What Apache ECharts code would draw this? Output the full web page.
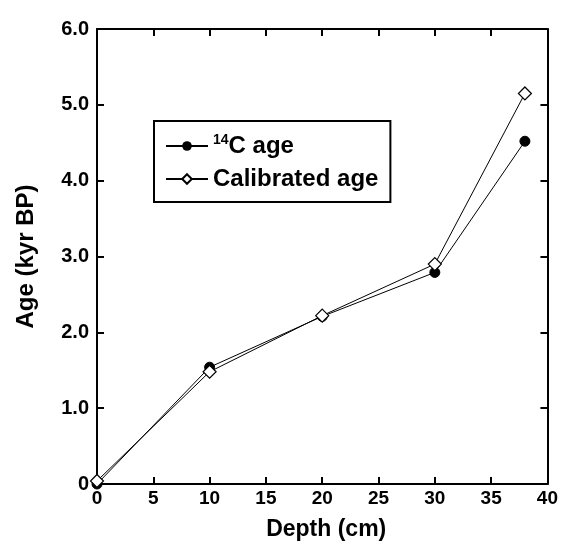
<!DOCTYPE html>
<html><head><meta charset="utf-8">
<script src="https://cdn.jsdelivr.net/npm/echarts@6/dist/echarts.min.js"></script>
<style>html,body{margin:0;padding:0;background:#fff}#c{width:561px;height:550px}</style>
</head><body><div id="c"></div>
<script>
const depth = [0, 10, 20, 30, 38];
const c14Age = [0.0, 1.54, 2.21, 2.79, 4.52];
const calAge = [0.04, 1.48, 2.22, 2.90, 5.15];
const seriesNames = ['14C age', 'Calibrated age'];
const xTicks = [0, 5, 10, 15, 20, 25, 30, 35, 40];
const yTicks = [0, 1, 2, 3, 4, 5, 6];

const FONT = '"Liberation Sans", Arial, sans-serif';
const chart = echarts.init(document.getElementById('c'));
const axisLine = {show: true, onZero: false, lineStyle: {color: '#000', width: 2}};
const tick = {show: true, inside: true, length: 7, lineStyle: {color: '#000', width: 2}};
const xBase = {type: 'value', min: xTicks[0], max: xTicks[xTicks.length-1], interval: 5, splitLine: {show: false}, axisLine, axisTick: tick};
const yBase = {type: 'value', min: yTicks[0], max: yTicks[yTicks.length-1], interval: 1, splitLine: {show: false}, axisLine, axisTick: tick};
chart.setOption({
  animation: false,
  grid: {left: 97, right: 12, top: 29, bottom: 66},
  xAxis: [
    Object.assign({}, xBase, {position: 'bottom', name: 'Depth (cm)', nameLocation: 'middle', nameGap: 34,
      nameTextStyle: {fontFamily: FONT, fontWeight: 'bold', fontSize: 23, color: '#000', padding: [0, 0, 0, 8]},
      axisLabel: {fontFamily: FONT, fontWeight: 'bold', fontSize: 19, color: '#000', margin: 5}}),
    Object.assign({}, xBase, {position: 'top', axisLabel: {show: false}})
  ],
  yAxis: [
    Object.assign({}, yBase, {position: 'left', name: 'Age (kyr BP)', nameLocation: 'middle', nameGap: 59,
      nameTextStyle: {fontFamily: FONT, fontWeight: 'bold', fontSize: 24, color: '#000', padding: [0, 0, 0, 0]},
      axisLabel: {fontFamily: FONT, fontWeight: 'bold', fontSize: 20, color: '#000', margin: 8,
        formatter: v => v === 0 ? '0' : v.toFixed(1)}}),
    Object.assign({}, yBase, {position: 'right', axisLabel: {show: false}})
  ],
  legend: {
    orient: 'vertical', left: 154, top: 121,
    borderColor: '#000', borderWidth: 2, padding: [12, 12, 10, 11],
    itemWidth: 42, itemHeight: 12, itemGap: 7,
    textStyle: {fontFamily: FONT, fontWeight: 'bold', fontSize: 24, lineHeight: 26, color: '#000',
      rich: {sup: {fontFamily: FONT, fontWeight: 'bold', fontSize: 14, verticalAlign: 'top', color: '#000', lineHeight: 26, padding: [0,0,8,0]},
             n: {fontFamily: FONT, fontWeight: 'bold', fontSize: 24, lineHeight: 26, color: '#000'}}},
    formatter: name => name === '14C age' ? '{sup|14}{n|C age}' : name,
    data: seriesNames
  },
  series: [
    {name: seriesNames[0], type: 'line', data: depth.map((d, i) => [d, c14Age[i]]),
     symbol: 'circle', symbolSize: 10, lineStyle: {color: '#000', width: 1},
     itemStyle: {color: '#000', borderColor: '#000'}, z: 2},
    {name: seriesNames[1], type: 'line', data: depth.map((d, i) => [d, calAge[i]]),
     symbol: 'diamond', symbolSize: 13, lineStyle: {color: '#000', width: 1},
     itemStyle: {color: '#fff', borderColor: '#000', borderWidth: 1.2}, z: 3}
  ]
});
</script></body></html>
